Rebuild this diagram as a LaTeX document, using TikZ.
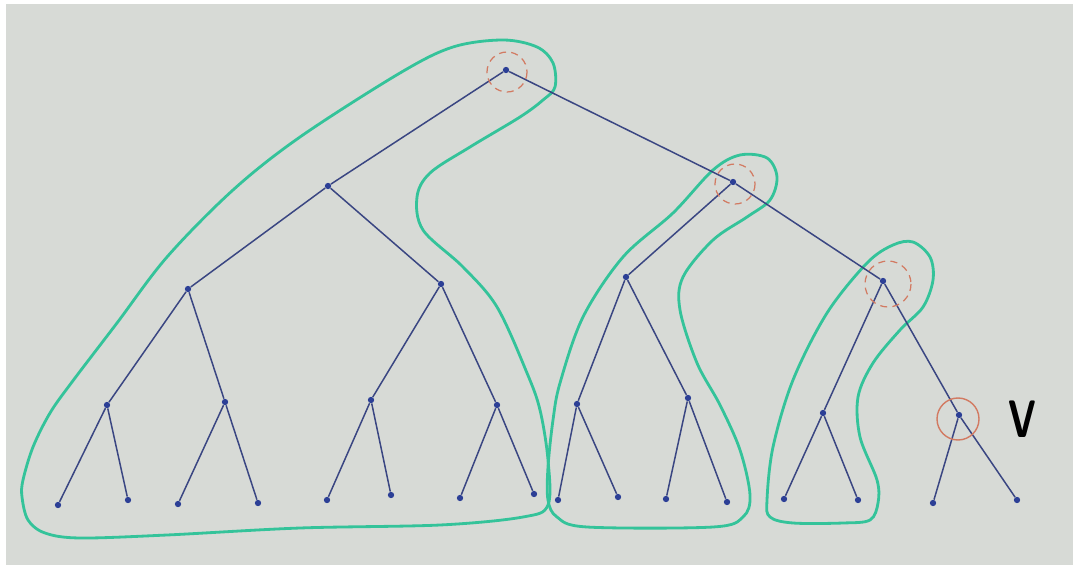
\documentclass[tikz,border=0pt]{standalone}
\usepackage{tikz}
\definecolor{paper}{HTML}{D7DAD6}
\definecolor{inkb}{HTML}{3A4682}
\definecolor{dotb}{HTML}{2C3F96}
\definecolor{hullg}{HTML}{34C39A}
\definecolor{markr}{HTML}{D27A62}

\begin{document}
\begin{tikzpicture}[x=0.02cm,y=-0.02cm,
  dot/.style={circle,fill=dotb,inner sep=0pt,minimum size=3.6pt},
  edg/.style={inkb,line width=0.85pt},
  hull/.style={hullg,line width=1.6pt},
  pick/.style={markr,line width=0.7pt,dash pattern=on 4pt off 3pt},
  capt/.style={font=\sffamily\bfseries\fontsize{30}{30}\selectfont,inner sep=0pt}]
\fill[white] (0,0) rectangle (1077,567);
\fill[paper] (6,4) rectangle (1073,565);
\useasboundingbox (0,0) rectangle (1077,567);
% green groups
\draw[hull] plot[smooth cycle,tension=0.55] coordinates {(22,497) (23,480) (33,447) (50,413) (72,382) (117,323) (167,257) (233,190) (300,137) (400,73) (453,47) (503,40) (537,47) (553,63) (555,87) (543,100) (520,117) (470,147) (430,173) (417,197) (423,230) (463,267) (497,307) (527,373) (540,410) (548,460) (548,505) (523,517) (440,525) (300,528) (167,535) (80,538) (45,533) (28,520)};
\draw[hull] plot[smooth cycle,tension=0.55] coordinates {(548,500) (548,467) (553,420) (560,383) (583,317) (623,257) (673,213) (713,170) (740,155) (767,158) (777,177) (770,200) (747,217) (713,240) (683,277) (680,310) (697,363) (720,405) (740,450) (750,495) (743,517) (713,527) (587,527) (557,517)};
\draw[hull] plot[smooth cycle,tension=0.55] coordinates {(767,500) (773,447) (793,380) (827,313) (867,263) (893,245) (913,242) (930,257) (933,280) (923,307) (900,330) (873,363) (858,397) (860,437) (877,480) (878,503) (870,520) (843,523) (793,523) (770,517)};
% tree
\foreach \n/\x/\y in {r/506/70, a/328/186, b/733/182,
  aa/188/289, ab/441/284, ba/626/277, c/883/281,
  aaa/107/405, aab/225/402, aba/371/400, abb/497/405,
  baa/577/404, bab/688/398, ca/823/413, v/959/415,
  l1/58/505, l2/128/500, l3/178/504, l4/258/503,
  l5/327/500, l6/391/495, l7/460/498, l8/534/494,
  l9/558/500, l10/618/497, l11/666/499, l12/727/502,
  l13/784/499, l14/858/500, l15/933/503, l16/1017/500}
  {\node[dot] (\n) at (\x,\y) {};}
\foreach \p/\q in {r/a, r/b, a/aa, a/ab, b/ba, b/c,
  aa/aaa, aa/aab, ab/aba, ab/abb, ba/baa, ba/bab, c/ca, c/v,
  aaa/l1, aaa/l2, aab/l3, aab/l4, aba/l5, aba/l6, abb/l7, abb/l8,
  baa/l9, baa/l10, bab/l11, bab/l12, ca/l13, ca/l14, v/l15, v/l16}
  {\draw[edg] (\p) -- (\q);}
% marks
\draw[pick] (r) ++(1,2) circle[radius=20];
\draw[pick] (b) ++(2,2) circle[radius=20];
\draw[pick] (c) ++(5,3) circle[radius=23];
\draw[markr,line width=0.8pt] (v) ++(-1,4) circle[radius=21];
\node[capt] (vl) at (1022,419) {\scalebox{0.72}[1]{V}};
\end{tikzpicture}
\end{document}
